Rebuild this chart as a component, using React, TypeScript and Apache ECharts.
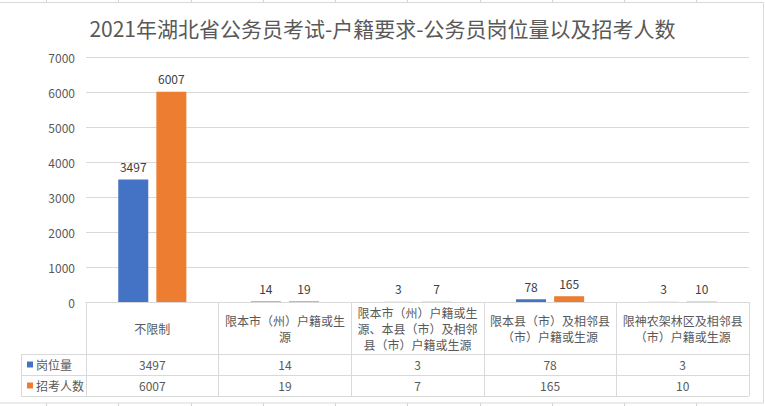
import React, { useEffect, useRef } from "react";
import * as echarts from "echarts";

const categories = [
  "不限制",
  "限本市（州）户籍或生源",
  "限本市（州）户籍或生源、本县（市）及相邻县（市）户籍或生源",
  "限本县（市）及相邻县（市）户籍或生源",
  "限神农架林区及相邻县（市）户籍或生源",
];
const jobs = [3497, 14, 3, 78, 3];
const recruits = [6007, 19, 7, 165, 10];
const seriesNames = ["岗位量", "招考人数"];
const yTicks = { min: 0, max: 7000, interval: 1000 };

const FONT = "'Noto Sans CJK SC', 'Noto Sans', sans-serif";
const GRID = { left: 86, right: 16, top: 57, bottom: 104 };
const W = 765;
const H = 406;

export default function App() {
  const ref = useRef<HTMLDivElement>(null);
  useEffect(() => {
    if (!ref.current) return;
    const chart = echarts.init(ref.current, undefined, { renderer: "svg" });
    const plotRight = W - GRID.right;
    const axisY = H - GRID.bottom;
    const tableLineColor = "#d9d9d9";
    const cellCols = [46, 118, 191, 263, 335, 407, 480, 552, 624, 696];
    const graphics: any[] = [
      {
        type: "rect",
        shape: { x: -1, y: 2.5, width: W - 0.5, height: 400.5 },
        style: { fill: "none", stroke: "#d9d9d9", lineWidth: 1 },
        silent: true,
      },
      ...cellCols.map((x) => ({
        type: "line",
        shape: { x1: x + 0.5, y1: 0, x2: x + 0.5, y2: 2 },
        style: { stroke: "#d4d4d4", lineWidth: 1 },
        silent: true,
      })),
      ...cellCols.map((x) => ({
        type: "line",
        shape: { x1: x + 0.5, y1: 403, x2: x + 0.5, y2: H },
        style: { stroke: "#d4d4d4", lineWidth: 1 },
        silent: true,
      })),
      ...[axisY + 52, axisY + 73, axisY + 94].map((y) => ({
        type: "line",
        shape: { x1: 21.5, y1: y + 0.5, x2: plotRight, y2: y + 0.5 },
        style: { stroke: tableLineColor, lineWidth: 1 },
        silent: true,
      })),
      {
        type: "line",
        shape: { x1: 21.5, y1: axisY + 52, x2: 21.5, y2: axisY + 95 },
        style: { stroke: tableLineColor, lineWidth: 1 },
        silent: true,
      },
    ];

    const valueAxis = (vals: number[], margin: number) => ({
      type: "category",
      data: categories,
      position: "bottom",
      axisLine: { show: false },
      axisTick: { show: false },
      splitLine: { show: false },
      axisLabel: {
        interval: 0,
        margin,
        verticalAlign: "middle",
        color: "#595959",
        fontSize: 12,
        fontFamily: FONT,
        formatter: (_v: string, i: number) => String(vals[i]),
      },
    });

    const barLabel = {
      show: true,
      position: "top",
      distance: 7,
      color: "#404040",
      fontSize: 12,
      fontFamily: FONT,
    };

    chart.setOption({
      animation: false,
      backgroundColor: "#ffffff",
      title: {
        text: "2021年湖北省公务员考试-户籍要求-公务员岗位量以及招考人数",
        left: "center",
        top: 12,
        textStyle: {
          fontSize: 21,
          fontWeight: "normal",
          color: "#595959",
          fontFamily: FONT,
        },
      },
      legend: {
        data: seriesNames,
        orient: "vertical",
        left: 27,
        top: 357.5,
        padding: 0,
        itemWidth: 6,
        itemHeight: 6,
        itemGap: 7,
        icon: "rect",
        textStyle: { fontSize: 12, lineHeight: 14, color: "#595959", fontFamily: FONT, padding: [0, 0, 0, -2] },
      },
      grid: { ...GRID, containLabel: false },
      xAxis: [
        {
          type: "category",
          data: categories,
          position: "bottom",
          axisLine: { lineStyle: { color: tableLineColor } },
          axisTick: { show: true, length: 94, lineStyle: { color: tableLineColor } },
          axisLabel: {
            interval: 0,
            margin: 26,
            verticalAlign: "middle",
            width: 124,
            overflow: "break",
            lineHeight: 16,
            color: "#595959",
            fontSize: 12,
            fontFamily: FONT,
          },
        },
        valueAxis(jobs, 62.5),
        valueAxis(recruits, 83.5),
      ],
      yAxis: {
        type: "value",
        ...yTicks,
        axisLine: { show: false },
        axisTick: { show: false },
        splitLine: { lineStyle: { color: "#d9d9d9" } },
        axisLabel: {
          color: "#595959",
          fontSize: 12,
          margin: 11,
          fontFamily: FONT,
          formatter: (v: number) => String(v),
        },
      },
      series: [
        {
          name: seriesNames[0],
          type: "bar",
          xAxisIndex: 0,
          data: jobs,
          barWidth: 30,
          barGap: "27%",
          itemStyle: { color: "#4472C4" },
          label: barLabel,
        },
        {
          name: seriesNames[1],
          type: "bar",
          xAxisIndex: 0,
          data: recruits,
          barWidth: 30,
          barGap: "27%",
          itemStyle: { color: "#ED7D31" },
          label: barLabel,
        },
      ],
      graphic: graphics,
    });
    return () => chart.dispose();
  }, []);
  return (
    <div
      ref={ref}
      style={{ position: "fixed", left: 0, top: 0, width: W, height: H, background: "#fff" }}
    />
  );
}
